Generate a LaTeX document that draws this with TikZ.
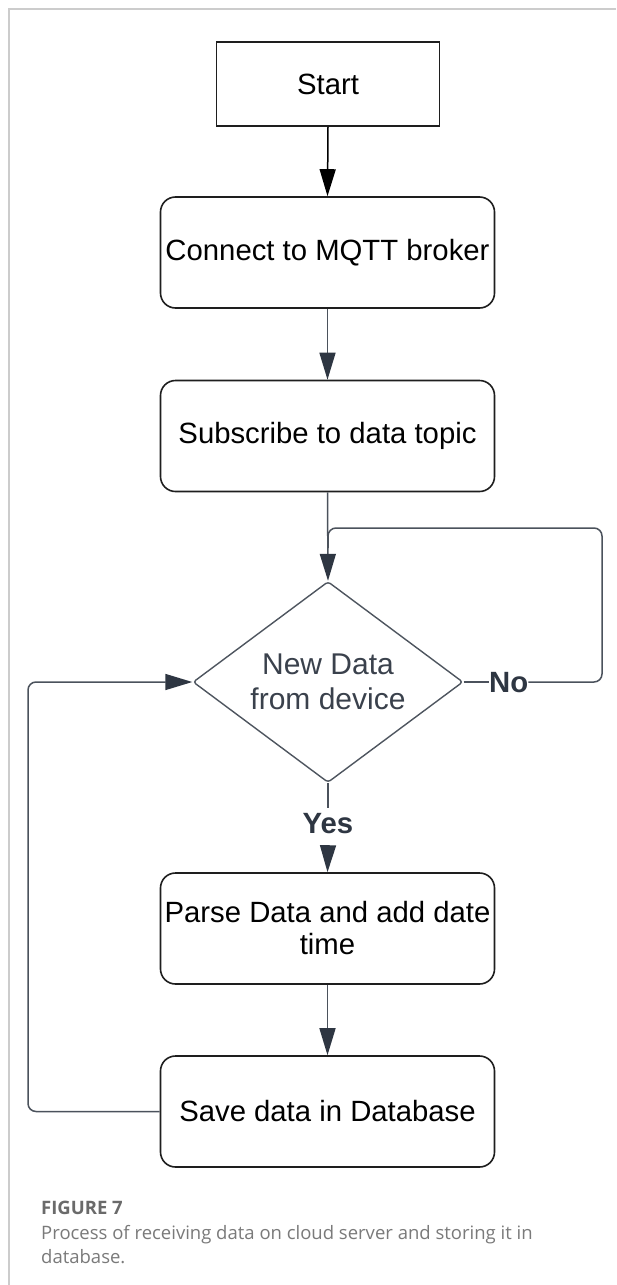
\documentclass[tikz,border=0pt]{standalone}
\usepackage{fontspec}
\setmainfont{Liberation Sans}
\newfontfamily\capfont{Open Sans}
\usetikzlibrary{shapes.geometric,arrows.meta,calc}
\definecolor{boxline}{HTML}{1E1E1E}
\definecolor{linkline}{HTML}{4B525C}
\definecolor{linkhead}{HTML}{2E3642}
\definecolor{dialine}{HTML}{4E555F}
\definecolor{diatext}{HTML}{3A414C}
\definecolor{framegray}{HTML}{CCCCCC}
\definecolor{capgray}{HTML}{6A6A6A}
\definecolor{captext}{HTML}{7A7A7A}
\begin{document}
\begin{tikzpicture}[x=1pt,y=-1pt,
  boxfont/.style={font=\fontsize{29.3}{32}\selectfont},
  startbox/.style={draw=boxline, line width=1.6pt, minimum width=223pt, minimum height=84pt,
    inner sep=0pt, boxfont, text=black},
  stepbox/.style={draw=boxline, line width=1.6pt, rounded corners=15pt, minimum width=334pt,
    minimum height=111pt, inner sep=0pt, align=center, boxfont, text=black},
  decisionbox/.style={diamond, draw=dialine, line width=1.4pt, rounded corners=3pt,
    minimum width=270pt, minimum height=201pt, inner sep=0pt, aspect=1.34, align=center,
    font=\fontsize{30}{35}\selectfont, text=diatext},
  branchlabel/.style={font=\bfseries\fontsize{29.3}{32}\selectfont, text=linkhead, inner sep=0pt},
  link/.style={draw=linkline, line width=1.5pt},
  arrowlink/.style={link, -{Triangle[length=27pt,width=16pt,color=linkhead]}},
  firstlink/.style={draw=black, line width=1.5pt, -{Triangle[length=27pt,width=16pt]}},
  capline/.style={anchor=base west, inner sep=0pt, font=\capfont\fontsize{18.5}{24}\selectfont, text=captext}
]
\useasboundingbox (0,0) rectangle (616,1285);
\fill[white] (0,0) rectangle (616,1285);

% page frame
\draw[framegray, line width=1.5pt] (616,9) -- (9,9) -- (9,1285);

% flow steps
\node[startbox] (start) at (328,84) {Start};
\node[stepbox] (connect) at (327.5,252.5) {Connect to MQTT broker};
\node[stepbox] (subscribe) at (327.5,436) {Subscribe to data topic};
\node[decisionbox] (decide) at (328,682) {New Data\\from device};
\node[stepbox] (parse) at (327.5,928.5) {Parse Data and add date\\time};
\node[stepbox] (save) at (327.5,1111.5) {Save data in Database};

% branch labels
\node[branchlabel, anchor=base, text height=25pt, text depth=14pt] (yes) at (328,833) {Yes};
\node[branchlabel, anchor=base west, text height=21pt, text depth=0pt] (no) at (489,692) {No};

% helper points of the loops
\coordinate (noturn) at (602,528);
\coordinate (merge) at (328,528);
\coordinate (mergeend) at (328,548);
\coordinate (backturn) at (28,682);

% main flow
\draw[firstlink] (start.south) -- (connect.north);
\draw[arrowlink] (connect.south) -- (subscribe.north);
\draw[arrowlink] (subscribe.south) -- (decide.north);
\draw[link] (decide.east) -- (decide.east -| no.west);
\draw[link] (decide.south) -- (yes.north);
\draw[arrowlink] (yes.south) -- (parse.north);
\draw[arrowlink] (parse.south) -- (save.north);

% "No" branch back to the decision
\draw[link, rounded corners=8pt] (no.east |- decide.east) -| (noturn) -- (merge) -- (mergeend);

% return from the database step
\draw[arrowlink, rounded corners=8pt] (save.west) -| (backturn) -- (decide.west);

% caption
\node[capline, font=\capfont\bfseries\fontsize{18.5}{24}\selectfont, text=capgray] (fig) at (41,1214) {FIGURE 7};
\node[capline] (cap1) at (41,1239) {Process of receiving data on cloud server and storing it in};
\node[capline] (cap2) at (41,1263) {database.};
\end{tikzpicture}
\end{document}
